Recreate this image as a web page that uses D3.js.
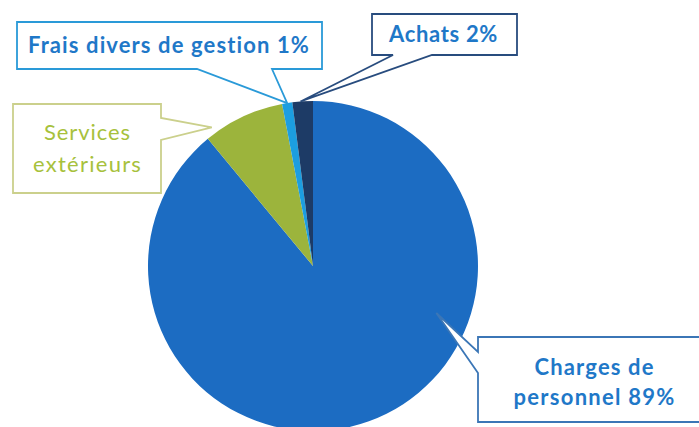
<!DOCTYPE html>
<html>
<head>
<meta charset="utf-8">
<script src="https://cdn.jsdelivr.net/npm/d3@7"></script>
<style>
  body { margin: 0; background: #fff; }
  text { font-family: Lato, 'Open Sans', sans-serif; font-variant-ligatures: none; }
</style>
</head>
<body>
<div id="chart"></div>
<script>
const categories = ['Charges de personnel', 'Services extérieurs', 'Frais divers de gestion', 'Achats'];
const values = [89, 8, 1, 2];
const colors = ['#1c6cc2', '#9cb43c', '#1c9ee0', '#1d3b66'];

const width = 699;
const height = 427;
const cx = 313;
const cy = 266;
const radius = 165;

const svg = d3.select('#chart')
              .append('svg')
              .attr('width', width)
              .attr('height', height);

const pie = d3.pie().sort(null).value((d) => d.value);
const arc = d3.arc().innerRadius(0).outerRadius(radius);

const slices = pie(categories.map((c, i) => ({ name: c, value: values[i], color: colors[i] })));

const g = svg.append('g').attr('transform', 'translate(' + cx + ',' + cy + ')');

g.selectAll('path')
  .data(slices)
  .enter()
  .append('path')
  .attr('d', arc)
  .attr('fill', (d) => d.data.color);

// point on the pie, at a fraction of a slice's span and of the radius
const piePoint = (slice, t, r) => {
  const a = slice.startAngle + (slice.endAngle - slice.startAngle) * t;
  return [cx + Math.sin(a) * radius * r, cy - Math.cos(a) * radius * r];
};

// callout boxes (layout only); each text line: [text, x, baseline, width]
const callouts = [
  { i: 2, box: [17, 22, 322, 69], side: 'bottom', base: [197, 272], at: [0.5, 1.0],
    stroke: '#2a9ad8', color: '#1f78c8', weight: 'bold', anchor: 'start',
    lines: [['Frais divers de gestion 1%', 28, 53, 282]] },
  { i: 3, box: [372, 14, 517, 55], side: 'bottom', base: [393, 432], at: [0.4, 1.0],
    stroke: '#284c7e', color: '#1f78c8', weight: 'bold', anchor: 'start',
    lines: [['Achats 2%', 389, 42, 109]] },
  { i: 1, box: [13, 104, 161, 193], side: 'right', base: [118, 140], at: [0.12, 1.04],
    stroke: '#cbd08c', color: '#a7c13c', weight: 'normal', anchor: 'middle',
    lines: [['Services', 87, 140, 87], ['extérieurs', 87, 172, 109]] },
  { i: 0, box: [478, 337, 720, 422], side: 'left', base: [352, 373], at: [0.346, 0.8],
    stroke: '#3b76b6', color: '#1f78c8', weight: 'bold', anchor: 'middle',
    lines: [['Charges de', 594, 375, 120], ['personnel 89%', 594, 405, 162]] }
];

const calloutPath = (c) => {
  const [x0, y0, x1, y1] = c.box;
  const [b1, b2] = c.base;
  const tip = piePoint(slices[c.i], c.at[0], c.at[1]);
  const p = d3.path();
  p.moveTo(x0, y0);
  p.lineTo(x1, y0);
  if (c.side === 'right') {
    p.lineTo(x1, b1); p.lineTo(tip[0], tip[1]); p.lineTo(x1, b2);
  }
  p.lineTo(x1, y1);
  if (c.side === 'bottom') {
    p.lineTo(b2, y1); p.lineTo(tip[0], tip[1]); p.lineTo(b1, y1);
  }
  p.lineTo(x0, y1);
  if (c.side === 'left') {
    p.lineTo(x0, b2); p.lineTo(tip[0], tip[1]); p.lineTo(x0, b1);
  }
  p.closePath();
  return p.toString();
};

const labels = svg.selectAll('g.callout')
  .data(callouts)
  .enter()
  .append('g')
  .attr('class', 'callout');

labels.append('path')
  .attr('d', calloutPath)
  .attr('fill', '#fff')
  .attr('stroke', (d) => d.stroke)
  .attr('stroke-width', 1.8)
  .attr('stroke-linejoin', 'miter');

labels.selectAll('text')
  .data((d) => d.lines.map((l) => ({ text: l[0], x: l[1], y: l[2], w: l[3], c: d })))
  .enter()
  .append('text')
  .attr('x', (d) => d.x)
  .attr('y', (d) => d.y)
  .attr('text-anchor', (d) => d.c.anchor)
  .attr('fill', (d) => d.c.color)
  .style('font-weight', (d) => d.c.weight)
  .style('font-size', '22px')
  .text((d) => d.text)
  .each(function (d) {
    // widen letters a little so the line spans the same width as the scan
    const len = this.getComputedTextLength();
    const extra = (d.w - len) / d.text.length;
    d3.select(this).style('letter-spacing', extra.toFixed(2) + 'px');
    if (d.c.anchor === 'middle') d3.select(this).attr('x', d.x + extra / 2);
  });
</script>
</body>
</html>
